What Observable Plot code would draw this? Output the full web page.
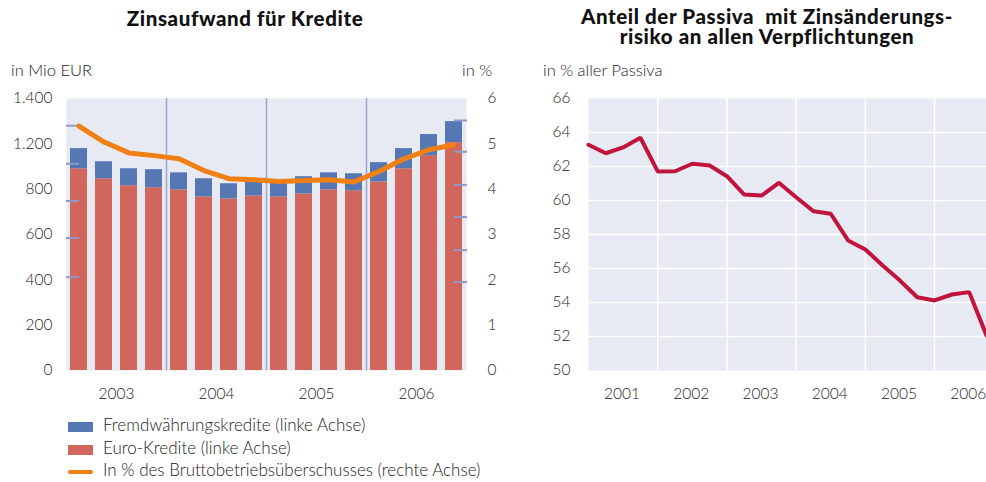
<!DOCTYPE html>
<html>
<head>
<meta charset="utf-8">
<script src="https://cdn.jsdelivr.net/npm/d3@7"></script>
<script src="https://cdn.jsdelivr.net/npm/@observablehq/plot@0.6"></script>
<style>
  body { margin: 0; background: #fff; }
  #root { position: relative; width: 986px; height: 482px; font-family: Lato, "Open Sans", sans-serif; color: #222; overflow: hidden; }
  .title { position: absolute; font-weight: 900; font-size: 20.5px; letter-spacing: 0.6px; color: #111; text-align: center; line-height: 20px; white-space: pre; }
  .unit { position: absolute; font-size: 16.5px; font-weight: 300; color: #222; line-height: 18px; }
  .chart { position: absolute; top: 0; }
  .leg { position: absolute; left: 68px; height: 20px; line-height: 20px; font-size: 17px; font-weight: 300; color: #222; white-space: nowrap; }
  .sw { display: inline-block; width: 25px; vertical-align: middle; margin-right: 10px; }
</style>
</head>
<body>
<div id="root">
  <div class="title" style="left:0;width:490px;top:8px;">Zinsaufwand für Kredite</div>
  <div class="title" style="left:534px;width:466px;top:6px;">Anteil der Passiva  mit Zinsänderungs-
risiko an allen Verpflichtungen</div>
  <div class="unit" style="left:11px;top:61px;">in Mio EUR</div>
  <div class="unit" style="left:462px;top:61px;">in %</div>
  <div class="unit" style="left:543px;top:61px;">in % aller Passiva</div>
  <div id="left" class="chart" style="left:0;"></div>
  <div id="right" class="chart" style="left:500px;"></div>
  <div id="legend"></div>
</div>
<script>
// ---------- Left chart data ----------
const quarters = ["2003 Q1","2003 Q2","2003 Q3","2003 Q4","2004 Q1","2004 Q2","2004 Q3","2004 Q4",
                  "2005 Q1","2005 Q2","2005 Q3","2005 Q4","2006 Q1","2006 Q2","2006 Q3","2006 Q4"];
const euroKredite  = [890, 846, 815, 806, 797, 766, 757, 770, 766, 779, 797, 793, 832, 890, 948, 1005];
const fremdKredite = [ 89,  75,  75,  80,  75,  80,  67,  63,  62,  76,  75,  75,  85,  89,  93,   93];
const bruttoAnteil = [5.39, 5.04, 4.80, 4.74, 4.67, 4.41, 4.23, 4.21, 4.17, 4.19, 4.21, 4.16, 4.39, 4.67, 4.87, 4.98];
const leftTickValues = [0, 200, 400, 600, 800, 1000, 1200];
const leftTickLabels = ["0", "200", "400", "600", "800", "1.200", "1.400"];
const rightTickLabels = ["0", "1", "2", "3", "4", "5", "6"];
const leftMinorTicks = [412, 585, 748, 912, 1080];
const rightMinorTicks = [390, 531, 677, 819, 965, 1103];

// ---------- Right chart data ----------
const passivaQuarters = ["2001 Q1","2001 Q2","2001 Q3","2001 Q4","2002 Q1","2002 Q2","2002 Q3","2002 Q4",
                         "2003 Q1","2003 Q2","2003 Q3","2003 Q4","2004 Q1","2004 Q2","2004 Q3","2004 Q4",
                         "2005 Q1","2005 Q2","2005 Q3","2005 Q4","2006 Q1","2006 Q2","2006 Q3","2006 Q4"];
const passivaAnteil = [63.28, 62.78, 63.12, 63.69, 61.71, 61.72, 62.16, 62.06, 61.43, 60.35, 60.29, 61.04,
                       60.19, 59.37, 59.22, 57.65, 57.12, 56.18, 55.29, 54.31, 54.12, 54.47, 54.61, 52.06];
const passivaYTicks = [50, 52, 54, 56, 58, 60, 62, 64, 66];

// ---------- Colours ----------
const colBlue = "#5578b4", colRed = "#d0665c", colOrange = "#f08014", colCrimson = "#c0143c";
const bg = "#e7e9f3";

// ---------- Derived tables ----------
const yearOf = q => +q.slice(0, 4);
const qOf = q => +q.slice(6);
const leftRows = quarters.map((q, i) => ({q, i, euro: euroKredite[i], fremd: fremdKredite[i], pct: bruttoAnteil[i]}));
const leftYears = [...new Set(quarters.map(yearOf))];
const yearCenters = leftYears.map(y => d3.mean(leftRows.filter(r => yearOf(r.q) === y), r => r.i));
const yearBounds = leftRows.filter(r => qOf(r.q) === 1 && r.i > 0).map(r => r.i - 0.5);
const halfBar = 0.34;
const pctToLeft = 200; // 1 % on right axis equals 200 on left axis

const font = {fontFamily: "Lato, 'Open Sans', sans-serif", fontSize: "15.5px", fontWeight: 300, color: "#222", background: "transparent", overflow: "visible"};

const left = Plot.plot({
  width: 500, height: 400,
  marginTop: 98, marginBottom: 30, marginLeft: 66, marginRight: 34,
  style: font,
  x: {type: "linear", domain: [-0.5, quarters.length - 0.5]},
  y: {domain: [0, 1200]},
  marks: [
    Plot.frame({fill: bg, stroke: null}),
    Plot.ruleX(yearBounds, {x: d => d, stroke: "#9ba7d0", strokeWidth: 1.5}),
    Plot.rectY(leftRows, {x1: d => d.i - halfBar, x2: d => d.i + halfBar, y1: 0, y2: "euro", fill: colRed}),
    Plot.rectY(leftRows, {x1: d => d.i - halfBar, x2: d => d.i + halfBar, y1: "euro", y2: d => d.euro + d.fremd, fill: colBlue}),
    Plot.axisY(leftMinorTicks, {anchor: "left", tickSize: 13, dx: 13, stroke: "#8d9ac9", strokeWidth: 2, tickFormat: () => "", label: null}),
    Plot.axisY(rightMinorTicks, {anchor: "right", tickSize: 13, dx: -13, stroke: "#8d9ac9", strokeWidth: 2, tickFormat: () => "", label: null}),
    Plot.line(leftRows, {x: "i", y: d => d.pct * pctToLeft, stroke: colOrange, strokeWidth: 5, strokeLinejoin: "round"}),
    Plot.axisY(leftTickValues, {anchor: "left", tickSize: 0, tickPadding: 14, label: null,
      tickFormat: d => leftTickLabels[leftTickValues.indexOf(d)]}),
    Plot.axisY(leftTickValues, {anchor: "right", tickSize: 0, tickPadding: 21, label: null,
      tickFormat: d => rightTickLabels[leftTickValues.indexOf(d)]}),
    Plot.axisX(yearCenters, {anchor: "bottom", tickSize: 0, tickPadding: 17, label: null,
      tickFormat: d => String(leftYears[yearCenters.indexOf(d)])})
  ]
});
document.getElementById("left").append(left);

// ---------- Right chart ----------
const toX = q => yearOf(q) + (qOf(q) - 1) / 4;
const passivaRows = passivaQuarters.map((q, i) => ({x: toX(q), v: passivaAnteil[i]}));
const pYears = [...new Set(passivaQuarters.map(yearOf))];
const pYearCenters = pYears.map(y => y + 0.5);
const pYearBounds = pYears.slice(1);

const right = Plot.plot({
  width: 486, height: 400,
  marginTop: 98, marginBottom: 30, marginLeft: 88, marginRight: 0,
  style: font,
  x: {type: "linear", domain: [d3.min(passivaRows, d => d.x), d3.max(passivaRows, d => d.x)]},
  y: {domain: [50, 66]},
  marks: [
    Plot.frame({fill: bg, stroke: null}),
    Plot.ruleY(passivaYTicks.slice(1, -1), {y: d => d, stroke: "#fff", strokeWidth: 1.5}),
    Plot.ruleX(pYearBounds, {x: d => d, stroke: "#fff", strokeWidth: 1.5}),
    Plot.line(passivaRows, {x: "x", y: "v", stroke: colCrimson, strokeWidth: 4, strokeLinejoin: "miter"}),
    Plot.axisY(passivaYTicks, {anchor: "left", tickSize: 0, tickPadding: 18, label: null, tickFormat: d => String(d)}),
    Plot.axisX(pYearCenters, {anchor: "bottom", tickSize: 0, tickPadding: 17, label: null, dx: -1,
      tickFormat: d => String(pYears[pYearCenters.indexOf(d)])})
  ]
});
document.getElementById("right").append(right);

// ---------- Legend ----------
const legendItems = [
  {label: "Fremdwährungskredite (linke Achse)", color: colBlue, kind: "rect"},
  {label: "Euro-Kredite (linke Achse)", color: colRed, kind: "rect"},
  {label: "In % des Bruttobetriebsüberschusses (rechte Achse)", color: colOrange, kind: "line"}
];
const legendTops = [415, 438, 460];
const legend = document.getElementById("legend");
legendItems.forEach((it, k) => {
  const row = document.createElement("div");
  row.className = "leg";
  row.style.top = legendTops[k] + "px";
  const sw = document.createElement("span");
  sw.className = "sw";
  sw.style.background = it.color;
  sw.style.height = it.kind === "rect" ? "10px" : "4px";
  if (it.kind === "line") sw.style.borderRadius = "2px";
  row.append(sw, document.createTextNode(it.label));
  legend.append(row);
});
</script>
</body>
</html>
